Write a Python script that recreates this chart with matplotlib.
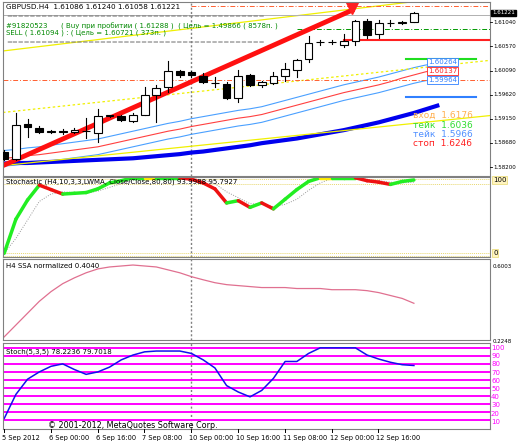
import numpy as np
import matplotlib.pyplot as plt
from matplotlib.patches import Rectangle

# ---- price candles (O, H, L, C), H4 bars ----
opens = [1.5857, 1.5843, 1.5910, 1.5903, 1.5895, 1.5895, 1.5895, 1.5897, 1.5893, 1.5926, 1.5926, 1.5916,
         1.5928, 1.5965, 1.5981, 1.6012, 1.6010, 1.6002, 1.5989, 1.5987, 1.5959, 1.6004, 1.5985, 1.5989,
         1.6002, 1.6014, 1.6034, 1.6067, 1.6067, 1.6061, 1.6069, 1.6108, 1.6083, 1.6103, 1.6103, 1.6106]
highs = [1.5860, 1.5930, 1.5920, 1.5906, 1.5898, 1.5900, 1.5902, 1.5922, 1.5938, 1.5928, 1.5928, 1.5930,
         1.5981, 1.5985, 1.6030, 1.6014, 1.6012, 1.6008, 1.6000, 1.5991, 1.6014, 1.6006, 1.5993, 1.6010,
         1.6026, 1.6035, 1.6079, 1.6072, 1.6071, 1.6083, 1.6110, 1.6112, 1.6110, 1.6110, 1.6107, 1.6124]
lows = [1.5840, 1.5840, 1.5885, 1.5893, 1.5892, 1.5890, 1.5893, 1.5883, 1.5875, 1.5924, 1.5916, 1.5914,
        1.5928, 1.5914, 1.5971, 1.6000, 1.6000, 1.5989, 1.5980, 1.5957, 1.5953, 1.5982, 1.5980, 1.5987,
        1.5993, 1.6000, 1.6028, 1.6062, 1.6063, 1.6058, 1.6061, 1.6075, 1.6075, 1.6098, 1.6102, 1.6106]
closes = [1.5843, 1.5908, 1.5905, 1.5895, 1.5896, 1.5896, 1.5898, 1.5897, 1.5926, 1.5926, 1.5918, 1.5928,
          1.5965, 1.5979, 1.6012, 1.6004, 1.6004, 1.5991, 1.5989, 1.5959, 1.6002, 1.5985, 1.5991, 1.6002,
          1.6016, 1.6032, 1.6065, 1.6067, 1.6067, 1.6069, 1.6108, 1.6081, 1.6103, 1.6103, 1.6105, 1.6122]

# moving averages (38 values, shifted forward)
ma_upper = [1.5859, 1.5861, 1.5864, 1.5866, 1.5869, 1.5872, 1.5875, 1.5878, 1.5881, 1.5886, 1.5891, 1.5896,
            1.5901, 1.5906, 1.5911, 1.5915, 1.5920, 1.5924, 1.5928, 1.5932, 1.5936, 1.5939, 1.5943, 1.5949,
            1.5955, 1.5961, 1.5967, 1.5973, 1.5979, 1.5985, 1.5990, 1.5995, 1.6000, 1.6006, 1.6012, 1.6018,
            1.6023, 1.6026]
ma_mid = [1.5844, 1.5846, 1.5849, 1.5851, 1.5854, 1.5857, 1.5860, 1.5863, 1.5866, 1.5871, 1.5876, 1.5881,
          1.5886, 1.5891, 1.5896, 1.5900, 1.5905, 1.5909, 1.5913, 1.5917, 1.5921, 1.5924, 1.5928, 1.5934,
          1.5940, 1.5946, 1.5952, 1.5958, 1.5964, 1.5970, 1.5975, 1.5980, 1.5985, 1.5991, 1.5998, 1.6004,
          1.6010, 1.6014]
ma_lower = [1.5829, 1.5831, 1.5834, 1.5836, 1.5839, 1.5842, 1.5845, 1.5848, 1.5851, 1.5856, 1.5861, 1.5866,
            1.5871, 1.5876, 1.5881, 1.5885, 1.5890, 1.5894, 1.5898, 1.5902, 1.5906, 1.5909, 1.5913, 1.5919,
            1.5925, 1.5931, 1.5937, 1.5943, 1.5949, 1.5955, 1.5960, 1.5965, 1.5970, 1.5976, 1.5982, 1.5988,
            1.5993, 1.5996]
ma_slow = [1.5834, 1.5835, 1.5835, 1.5836, 1.5837, 1.5838, 1.5839, 1.5840, 1.5841, 1.5842, 1.5843, 1.5844,
           1.5846, 1.5848, 1.5850, 1.5852, 1.5855, 1.5857, 1.5860, 1.5863, 1.5866, 1.5869, 1.5873, 1.5876,
           1.5879, 1.5882, 1.5886, 1.5890, 1.5894, 1.5898, 1.5903, 1.5908, 1.5913, 1.5919, 1.5925, 1.5931,
           1.5938, 1.5945]

# stochastic (upper panel)
stoch_main = [0, 46, 72, 92, 86, 80, 81, 82, 87, 95, 98, 102, 102, 102, 102, 102, 100, 95, 87, 68, 71, 62,
              68, 60, 73, 86, 97, 102, 102, 102, 102, 98, 96, 93, 97, 99]
stoch_sig = [0, 20, 45, 70, 80, 83, 82, 81, 84, 89, 94, 98, 101, 102, 102, 102, 101, 99, 94, 83, 75, 67,
             66, 63, 66, 73, 85, 95, 101, 102, 102, 100, 98, 96, 95, 96]
ssa = [0.235, 0.296, 0.357, 0.418, 0.468, 0.509, 0.539, 0.565, 0.585, 0.595, 0.600, 0.605, 0.600, 0.595,
       0.580, 0.565, 0.545, 0.529, 0.514, 0.504, 0.499, 0.494, 0.489, 0.489, 0.489, 0.484, 0.484, 0.484,
       0.478, 0.478, 0.478, 0.473, 0.463, 0.448, 0.433, 0.408]
stoch2 = [12, 42, 61, 70, 77, 80, 73, 67, 70, 76, 85, 91, 95, 96, 96, 96, 93, 85, 75, 53, 45, 39, 47, 62,
          83, 83, 93, 100, 100, 100, 100, 91, 86, 82, 79, 78]

tick_idx = [0, 4, 8, 12, 16, 20, 24, 28, 32]
tick_lbl = ["5 Sep 2012", "6 Sep 00:00", "6 Sep 16:00", "7 Sep 08:00", "10 Sep 00:00",
            "10 Sep 16:00", "11 Sep 08:00", "12 Sep 00:00", "12 Sep 16:00"]
price_ticks = [1.61040, 1.60570, 1.60090, 1.59620, 1.59150, 1.58680, 1.58200]

W, H = 518, 444
fig = plt.figure(figsize=(W / 100, H / 100), dpi=100)
plt.rcParams['font.family'] = ['DejaVu Sans']
FS = 5.0
FR = 4.0


def ax_px(x0, y0, x1, y1):
    return fig.add_axes([x0 / W, 1 - y1 / H, (x1 - x0) / W, (y1 - y0) / H])


XL = (-0.1, 41.5)
panels = [ax_px(3, 2, 490, 176), ax_px(3, 177, 490, 257), ax_px(3, 259, 490, 340), ax_px(3, 343, 490, 429)]
for a in panels:
    a.set_xlim(*XL)
    a.set_xticks([])
    a.set_yticks([])
    for s in a.spines.values():
        s.set_color('#808080')
        s.set_linewidth(0.8)
    a.axvline(16, color='#808080', ls=(0, (1.5, 1.5)), lw=1)

ax = panels[0]
ax.set_ylim(1.5810, 1.6144)
n = len(opens)
xs = np.arange(n)
ax.plot(np.arange(len(ma_upper)), ma_upper, color='#4aa0ff', lw=0.8)
ax.plot(np.arange(len(ma_mid)), ma_mid, color='#ff4040', lw=0.8)
ax.plot(np.arange(len(ma_lower)), ma_lower, color='#4aa0ff', lw=0.8)
ax.plot(np.arange(len(ma_slow)), ma_slow, color='#0000ee', lw=3)
ax.plot([-0.1, 37.7], [1.6050, 1.6152], color='#f0f000', lw=0.9)
ax.plot([-0.1, 41.5], [1.5830, 1.5926], color='#f0f000', lw=0.9)
ax.plot([-0.1, 41.5], [1.5932, 1.6032], color='#f0f000', lw=0.9, ls=(0, (2, 2)))
ax.axhline(1.5995, color='#ff6030', lw=0.7, ls=(0, (5, 2, 1, 2)))
ax.plot([16, 41.5], [1.6136, 1.6136], color='#ff6030', lw=0.7, ls=(0, (5, 2, 1, 2)))
ax.plot([25, 41.5], [1.6093, 1.6093], color='#009900', lw=0.7, ls=(0, (5, 2, 1, 2)))
ax.axhline(1.6120, color='#b0b0b0', lw=0.7)
ax.plot([29, 41.5], [1.6071, 1.6071], color='#ff2020', lw=1.5)
ax.plot([34.3, 40.3], [1.6034, 1.6034], color='#20dd20', lw=1.5)
ax.plot([34.3, 40.3], [1.5961, 1.5961], color='#3080ff', lw=1.5)
ax.plot([-0.1, 29.7], [1.5830, 1.6128], color='#ff1010', lw=3.5)
ax.plot([29.7], [1.6132], marker='v', color='#ff2020', ms=9)
for i in range(n):
    o, h, l, c = opens[i], highs[i], lows[i], closes[i]
    ax.plot([i, i], [l, h], color='black', lw=0.8, zorder=3)
    bot, top = min(o, c), max(o, c)
    ax.add_patch(Rectangle((i - 0.33, bot), 0.66, max(top - bot, 0.00003),
                           facecolor='black' if c < o else 'white', edgecolor='black', lw=0.8, zorder=4))

def ptext(a, x, y, s, **kw):
    a.text(x / W, 1 - y / H, s, transform=fig.transFigure, fontsize=kw.pop('fs', FS), va='center', **kw)

ptext(ax, 6, 7, "GBPUSD.H4  1.61086 1.61240 1.61058 1.61221", fs=5.2)
ptext(ax, 6, 16, "=" * 44, color='#808080')
ptext(ax, 6, 26, "#91820523      ( Buy при пробитии ( 1.61288 )  ( Цель = 1.49866 ( 8578п. )", color='#008800')
ptext(ax, 6, 33, "SELL ( 1.61094 ) : ( Цель = 1.60721 ( 373п. )", color='#008800')
ptext(ax, 6, 42, "=" * 44, color='#808080')
for yv, s, col in [(62, "1.60264", '#3080ff'), (71, "1.60137", '#ff2020'), (80, "1.59964", '#3080ff')]:
    ax.text(428 / W, 1 - yv / H, s, transform=fig.transFigure, fontsize=FS, va='center', color=col,
            bbox=dict(boxstyle='square,pad=0.1', fc='white', ec=col, lw=0.6))
for yv, s, col in [(115, "вход  1.6176", '#ffb050'), (125, "тейк  1.6036", '#30dd30'),
                   (134, "тейк  1.5966", '#5090ff'), (144, "стоп  1.6246", '#ff2020')]:
    ptext(ax, 413, yv, s, color=col, fs=6.5)
for p in price_ticks:
    y = 13 + (1.61221 - p) / 0.000196
    fig.add_artist(plt.Line2D([490 / W, 492 / W], [1 - y / H] * 2, color='black', lw=0.6))
    ptext(ax, 493, y, "%.5f" % p, fs=FR)
ptext(ax, 492, 13, "1.61221", fs=FR, color='white', bbox=dict(boxstyle='square,pad=0.15', fc='black', ec='black'))

# stochastic panel
a1 = panels[1]
a1.set_ylim(-5, 103)
for lv in (100, 94, 0, -3):
    a1.axhline(lv, color='#e8d870', lw=0.7, ls=(0, (1, 1)))
a1.plot(xs, stoch_sig, color='#999999', lw=0.7, ls=(0, (1, 1.5)))
for i in range(n - 1):
    col = '#22ee22' if stoch_main[i + 1] >= stoch_main[i] else '#ee1111'
    if stoch_main[i] >= 101 and stoch_main[i + 1] >= 101 and i in (12, 27):
        col = '#ffee00'
    a1.plot([i, i + 1], [stoch_main[i], stoch_main[i + 1]], color=col, lw=2.5, solid_capstyle='round')
ptext(a1, 6, 182, "Stochastic (H4,10,3,3,LWMA, Close/Close,80,80) 93.9988 95.7927", fs=FS)
ptext(a1, 493, 180, "100", fs=FS, bbox=dict(boxstyle='square,pad=0.1', fc='#fff4c0', ec='#e8d870', lw=0.5))
ptext(a1, 493, 253, "0", fs=FS, bbox=dict(boxstyle='square,pad=0.1', fc='#fff4c0', ec='#e8d870', lw=0.5))

# SSA panel
a2 = panels[2]
a2.set_ylim(0.2190, 0.6360)
a2.plot(xs, ssa, color='#e07090', lw=0.9)
ptext(a2, 6, 266, "H4 SSA normalized 0.4040", fs=FS)
ptext(a2, 493, 266, "0.6003", fs=FR)
ptext(a2, 493, 341, "0.2248", fs=FR)

# Stoch(5,3,5)
a3 = panels[3]
a3.set_ylim(-1, 106)
for lv in range(10, 101, 10):
    a3.axhline(lv, color='#ff00ff', lw=1.4)
    ptext(a3, 491, 430 - lv * 0.82, "%d" % lv, fs=FS, color='#ff00ff')
a3.plot(xs, stoch2, color='#1010ee', lw=1.1)
ptext(a3, 6, 352, "Stoch(5,3,5) 78.2236 79.7018", fs=FS)
ptext(a3, 48, 425, "© 2001-2012, MetaQuotes Software Corp.", fs=5.8)
for ti, tl in zip(tick_idx, tick_lbl):
    x = 4 + ti * 11.7
    fig.add_artist(plt.Line2D([x / W, x / W], [1 - 429 / H, 1 - 432 / H], color='black', lw=0.7))
    ptext(a3, x - 2, 438, tl, fs=4.8)

fig.savefig("out.png", dpi=100, facecolor='white')
